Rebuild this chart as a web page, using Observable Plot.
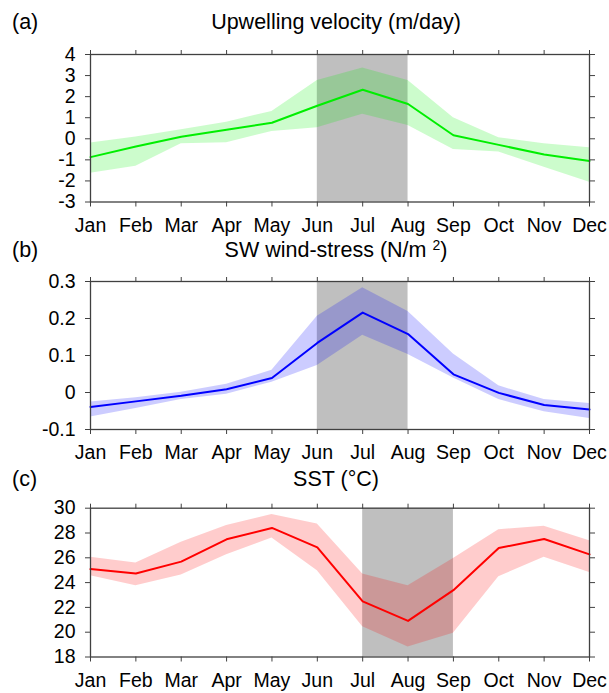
<!DOCTYPE html>
<html><head><meta charset="utf-8">
<script src="https://cdn.jsdelivr.net/npm/d3@7"></script>
<script src="https://cdn.jsdelivr.net/npm/@observablehq/plot@0.6"></script>
<style>
body{margin:0;background:#fff;font-family:"Liberation Sans",Arial,sans-serif;}
#wrap{position:relative;width:609px;height:693px;overflow:hidden;background:#fff;}
.panel{position:absolute;left:0;}
.lab{position:absolute;font-size:21.5px;color:#000;line-height:1;white-space:nowrap;}
.title{transform:translate(-50%,-50%);}
.tag{transform:translate(0,-50%);}
sup{font-size:14px;vertical-align:0.5em;line-height:0;}
</style></head><body><div id="wrap"></div>
<script>
const months = ["Jan","Feb","Mar","Apr","May","Jun","Jul","Aug","Sep","Oct","Nov","Dec"];

// (a) Upwelling velocity (m/day)
const upwMean = [-0.87,-0.37,0.10,0.43,0.76,1.57,2.33,1.65,0.17,-0.29,-0.75,-1.05];
const upwHigh = [-0.20,0.08,0.43,0.79,1.30,2.77,3.36,2.77,1.00,0.05,-0.24,-0.43];
const upwLow  = [-1.63,-1.30,-0.24,-0.19,0.35,0.52,1.16,0.63,-0.51,-0.63,-1.35,-2.06];
const upwTicks = [-3,-2,-1,0,1,2,3,4];
const upwShade = ["Jun","Aug"];

// (b) SW wind-stress (N/m2)
const windMean = [-0.039,-0.024,-0.009,0.009,0.039,0.134,0.216,0.158,0.049,-0.001,-0.034,-0.046];
const windHigh = [-0.026,-0.014,0.001,0.022,0.060,0.206,0.283,0.219,0.104,0.018,-0.019,-0.030];
const windLow  = [-0.066,-0.043,-0.019,-0.005,0.028,0.073,0.155,0.103,0.039,-0.019,-0.052,-0.070];
const windTicks = [-0.1,0,0.1,0.2,0.3];
const windShade = ["Jun","Aug"];

// (c) SST (°C)
const sstMean = [25.09,24.74,25.69,27.49,28.41,26.84,22.48,20.91,23.39,26.79,27.52,26.28];
const sstHigh = [26.04,25.58,27.25,28.60,29.49,28.73,24.69,23.74,25.95,28.27,28.54,27.38];
const sstLow  = [24.55,23.74,24.61,26.25,27.60,24.96,20.43,18.81,19.91,24.47,26.04,24.82];
const sstTicks = [18,20,22,24,26,28,30];
const sstShade = ["Jul","Sep"];

const wrap = document.getElementById("wrap");
const FONT = '"Liberation Sans", Arial, sans-serif';
const AX = "#404040";

function panel({top, frameTop, frameBottom, ticks, mean, hi, lo, color, shade, title, tag, titleDy}) {
  const rows = months.map((m, i) => ({i, mean: mean[i], hi: hi[i], lo: lo[i]}));
  const shadeRows = [{x1: months.indexOf(shade[0]), x2: months.indexOf(shade[1])}];
  const mb = 40;
  const height = (frameBottom - top) + mb;
  const chart = Plot.plot({
    width: 609,
    height,
    marginLeft: 90,
    marginRight: 20,
    marginTop: frameTop - top,
    marginBottom: mb,
    style: {fontFamily: FONT, fontSize: "19px", background: "transparent", overflow: "visible", color: "#000"},
    x: {type: "linear", domain: [0, 11], label: null},
    y: {domain: [ticks[0], ticks[ticks.length - 1]], label: null},
    marks: [
      Plot.rect(shadeRows, {x1: "x1", x2: "x2", fill: "#bfbfbf"}),
      Plot.areaY(rows, {x: "i", y1: "lo", y2: "hi", fill: color, fillOpacity: 0.2}),
      Plot.line(rows, {x: "i", y: "mean", stroke: color, strokeWidth: 2}),
      Plot.frame({stroke: AX, strokeWidth: 1.3}),
      Plot.axisX(d3.range(12), {anchor: "bottom", tickSize: 5, tickPadding: 11, stroke: AX, fill: "#000", fontSize: 19.5, tickFormat: i => months[i], label: null}),
      Plot.axisX(d3.range(12), {anchor: "top", tickSize: 5, stroke: AX, tickFormat: () => "", label: null}),
      Plot.axisY(ticks, {anchor: "left", tickSize: 5, tickPadding: 10, stroke: AX, fill: "#000", fontSize: 19.5, tickFormat: d => String(d), label: null}),
      Plot.axisY(ticks, {anchor: "right", tickSize: 5, stroke: AX, tickFormat: () => "", label: null})
    ]
  });
  chart.classList.add("panel");
  chart.style.top = top + "px";
  wrap.appendChild(chart);

  const t = document.createElement("div");
  t.className = "lab title";
  t.style.left = "336px";
  t.style.top = (frameTop - titleDy) + "px";
  t.innerHTML = title;
  wrap.appendChild(t);

  const g = document.createElement("div");
  g.className = "lab tag";
  g.style.left = "12px";
  g.style.top = (frameTop - titleDy) + "px";
  g.textContent = tag;
  wrap.appendChild(g);
}

panel({top: 0, frameTop: 54, frameBottom: 201.5, ticks: upwTicks, mean: upwMean, hi: upwHigh, lo: upwLow,
  color: "#00ee00", shade: upwShade, title: "Upwelling velocity (m/day)", tag: "(a)", titleDy: 31});
panel({top: 230, frameTop: 281, frameBottom: 429, ticks: windTicks, mean: windMean, hi: windHigh, lo: windLow,
  color: "#0000ff", shade: windShade, title: "SW wind-stress (N/m <sup>2</sup>)", tag: "(b)", titleDy: 30.5});
panel({top: 460, frameTop: 507.7, frameBottom: 656.5, ticks: sstTicks, mean: sstMean, hi: sstHigh, lo: sstLow,
  color: "#ff0000", shade: sstShade, title: "SST (°C)", tag: "(c)", titleDy: 28});
</script>
</body></html>
